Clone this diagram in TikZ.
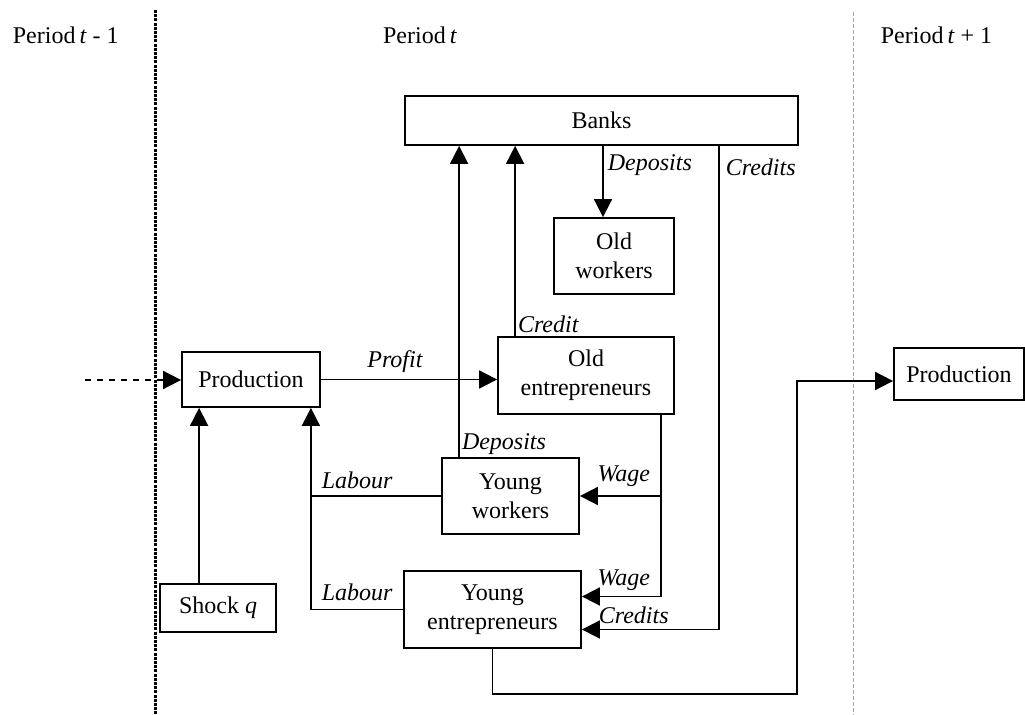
\documentclass[tikz,border=0pt]{standalone}
\usepackage{fontspec}
\setmainfont{Liberation Serif}
\usepackage{tikz}
\usetikzlibrary{arrows.meta,calc}

\begin{document}
\begin{tikzpicture}[x=0.5pt, y=-0.5pt,
    line width=0.9pt,
    box/.style={draw, align=center, inner sep=0pt, font=\fontsize{12}{14.5}\selectfont},
    arr/.style={-{Triangle[length=9pt,width=9pt]}},
    lab/.style={font=\fontsize{12}{14}\selectfont\itshape, inner sep=1pt},
    period/.style={font=\fontsize{12}{14}\selectfont, inner sep=0pt}]
    \useasboundingbox (0,0) rectangle (1025,715);

    % Period headings and separators
    \node[period, anchor=west] (pprev) at (12,35) {Period\,\textit{t} - 1};
    \node[period] (pnow) at (420,35) {Period\,\textit{t}};
    \node[period, anchor=west] (pnext) at (880,35) {Period\,\textit{t} + 1};
    \draw[line width=1.5pt, dash pattern=on 1.5pt off 0.6pt] (155,10) -- (155,715);
    \draw[gray!70, line width=0.4pt, dash pattern=on 2pt off 1pt] (853,12) -- (853,715);

    % Boxes
    \node[box, minimum width=196.5pt, minimum height=24.5pt] (banks) at (601.5,120.5) {Banks};
    \node[box, minimum width=60pt, minimum height=38pt] (oldw) at (614,256) {Old\\workers};
    \node[box, minimum width=88pt, minimum height=38.5pt] (olde) at (586,375.5) {Old\\entrepreneurs};
    \node[box, minimum width=68.5pt, minimum height=38pt] (youngw) at (510.5,496) {Young\\workers};
    \node[box, minimum width=88.5pt, minimum height=38.5pt] (younge) at (492.5,609.5) {Young\\entrepreneurs};
    \node[box, minimum width=69pt, minimum height=27.5pt] (prod) at (251,379.5) {Production};
    \node[box, minimum width=58pt, minimum height=24pt] (shock) at (218,608) {Shock \textit{q}};
    \node[box, minimum width=65pt, minimum height=26pt] (prodnext) at (959,374) {Production};

    % Input from previous period
    \coordinate (inflow) at (85,380);
    \draw[arr, dashed] (inflow) -- (inflow -| prod.west);

    % Shock into production
    \draw[arr] ([xshift=20pt]shock.north west) -- ([xshift=20pt]shock.north west |- prod.south);

    % Labour
    \draw[arr] (younge.west) -| node[pos=0.5, anchor=south west, lab, xshift=4pt, yshift=3pt] {Labour}
        ([xshift=-5pt]prod.south east);
    \draw (youngw.west) -- node[pos=1, anchor=south west, lab, xshift=4pt, yshift=2pt] {Labour}
        ([xshift=-5pt]prod.south east |- youngw.west);

    % Profit
    \draw[arr] (prod.east) -- node[pos=0.42, above, lab, yshift=2pt] {Profit} (prod.east -| olde.west);

    % Flows to and from the banks
    \draw[arr] ([xshift=9pt]youngw.north west) -- node[pos=0, anchor=south west, lab] {Deposits}
        ([xshift=9pt]youngw.north west |- banks.south);
    \draw[arr] ([xshift=9pt]olde.north west) -- node[pos=0, anchor=south west, lab] {Credit}
        ([xshift=9pt]olde.north west |- banks.south);
    \draw[arr] ([xshift=-5.5pt]oldw.north |- banks.south) -- node[pos=0, anchor=north west, lab, xshift=1pt, yshift=-3pt] {Deposits}
        ([xshift=-5.5pt]oldw.north);
    \draw[arr] ([xshift=-40pt]banks.south east) |- node[pos=0, anchor=north west, lab, xshift=2pt, yshift=-5pt] {Credits}
        node[pos=1, anchor=south west, lab, xshift=7pt, yshift=1.5pt] {Credits} ([yshift=-10pt]younge.east);

    % Wages
    \draw[arr] ([xshift=-7pt]olde.south east) |- node[pos=0.5, anchor=south east, lab, xshift=-4pt, yshift=1.5pt] {Wage}
        ([yshift=6.5pt]younge.east);
    \draw[arr] ([xshift=-7pt]olde.south east |- youngw.east) -- node[pos=0, anchor=south east, lab, xshift=-4pt, yshift=3pt] {Wage}
        (youngw.east);

    % Into next period
    \coordinate (turn) at (797,694);
    \draw[arr] (younge.south) |- (turn) |- ([yshift=-3.5pt]prodnext.west);
\end{tikzpicture}
\end{document}
